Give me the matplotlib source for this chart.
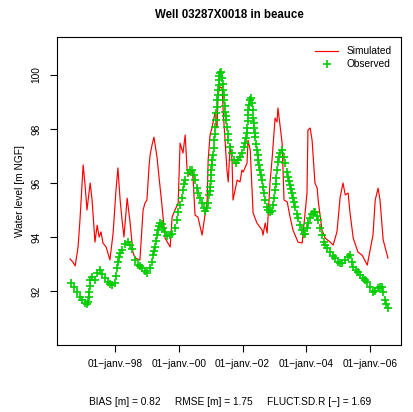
import numpy as np
import matplotlib.pyplot as plt

plt.rcParams['font.family'] = ['Liberation Sans', 'DejaVu Sans']

# simulated head (decimal years, m NGF)
sim_t = [1996.59, 1996.68, 1996.75, 1996.84, 1996.90, 1997.00, 1997.06, 1997.12, 1997.22, 1997.28,
         1997.37, 1997.44, 1997.50, 1997.56, 1997.62, 1997.72, 1997.84, 1997.94, 1998.03, 1998.09,
         1998.16, 1998.22, 1998.28, 1998.38, 1998.47, 1998.56, 1998.63, 1998.78, 1998.88, 1998.94,
         1999.00, 1999.07, 1999.10, 1999.16, 1999.22, 1999.32, 1999.35, 1999.47, 1999.57, 1999.73,
         1999.79, 1999.88, 1999.98, 2000.04, 2000.13, 2000.20, 2000.26, 2000.32, 2000.42, 2000.45,
         2000.51, 2000.60, 2000.73, 2000.82, 2000.89, 2000.92, 2000.98, 2001.04, 2001.14, 2001.20,
         2001.23, 2001.29, 2001.36, 2001.39, 2001.51, 2001.55, 2001.61, 2001.67, 2001.70, 2001.83,
         2001.92, 2001.98, 2002.02, 2002.14, 2002.17, 2002.24, 2002.33, 2002.45, 2002.61, 2002.64,
         2002.71, 2002.77, 2002.86, 2002.93, 2003.02, 2003.08, 2003.11, 2003.24, 2003.30, 2003.40,
         2003.49, 2003.58, 2003.74, 2003.87, 2003.90, 2004.02, 2004.05, 2004.12, 2004.18, 2004.27,
         2004.34, 2004.37, 2004.49, 2004.59, 2004.75, 2004.84, 2004.96, 2005.06, 2005.15, 2005.22,
         2005.31, 2005.37, 2005.47, 2005.62, 2005.75, 2005.91, 2006.00, 2006.09, 2006.16, 2006.25,
         2006.31, 2006.41, 2006.56]
sim_h = [93.19, 93.07, 92.93, 93.63, 94.63, 96.67, 95.93, 95.00, 96.00, 95.37,
         93.81, 94.44, 94.00, 94.19, 93.78, 93.63, 93.15, 94.15, 95.74, 96.56,
         95.37, 94.63, 94.00, 95.44, 94.56, 93.44, 93.22, 93.15, 95.00, 95.26,
         95.37, 96.67, 97.04, 97.41, 97.70, 96.93, 96.56, 95.19, 93.96, 93.63,
         94.74, 95.00, 95.26, 97.48, 97.11, 97.78, 96.48, 96.30, 96.48, 96.11,
         94.81, 94.74, 94.07, 94.81, 95.37, 96.85, 97.78, 98.04, 98.63, 98.04,
         99.26, 99.56, 99.52, 98.70, 96.48, 96.04, 97.41, 96.85, 95.37, 96.11,
         96.04, 96.48, 96.41, 96.74, 97.59, 97.22, 94.89, 94.52, 94.26, 94.07,
         94.52, 94.15, 96.00, 96.96, 98.41, 98.26, 98.78, 97.48, 95.37, 95.30,
         94.74, 94.26, 93.81, 93.78, 94.15, 95.63, 97.96, 98.04, 97.59, 96.00,
         95.81, 95.37, 94.26, 93.96, 93.81, 93.70, 94.19, 95.48, 96.00, 95.56,
         95.63, 94.89, 93.96, 93.44, 93.33, 92.96, 93.52, 94.07, 95.37, 95.81,
         95.37, 93.89, 93.22]

# observed head
obs_t = [1996.62, 1996.71, 1996.81, 1996.90, 1996.96, 1997.06, 1997.12, 1997.15, 1997.18, 1997.22,
         1997.28, 1997.37, 1997.44, 1997.53, 1997.59, 1997.69, 1997.78, 1997.84, 1997.91, 1998.00,
         1998.06, 1998.09, 1998.16, 1998.22, 1998.31, 1998.41, 1998.47, 1998.53, 1998.63, 1998.72,
         1998.78, 1998.85, 1998.94, 1999.00, 1999.10, 1999.16, 1999.19, 1999.25, 1999.32, 1999.35,
         1999.41, 1999.47, 1999.51, 1999.57, 1999.63, 1999.73, 1999.79, 1999.88, 1999.98, 2000.04,
         2000.13, 2000.20, 2000.29, 2000.35, 2000.42, 2000.48, 2000.51, 2000.57, 2000.60, 2000.67,
         2000.73, 2000.79, 2000.82, 2000.89, 2000.92, 2000.95, 2000.98, 2001.01, 2001.04, 2001.07,
         2001.11, 2001.14, 2001.17, 2001.20, 2001.23, 2001.26, 2001.29, 2001.33, 2001.36, 2001.39,
         2001.42, 2001.45, 2001.48, 2001.51, 2001.55, 2001.61, 2001.67, 2001.73, 2001.80, 2001.86,
         2001.92, 2001.98, 2002.05, 2002.08, 2002.11, 2002.14, 2002.17, 2002.20, 2002.24, 2002.27,
         2002.30, 2002.33, 2002.36, 2002.39, 2002.45, 2002.49, 2002.55, 2002.61, 2002.67, 2002.71,
         2002.77, 2002.80, 2002.86, 2002.93, 2002.96, 2003.02, 2003.05, 2003.11, 2003.18, 2003.24,
         2003.30, 2003.33, 2003.40, 2003.43, 2003.49, 2003.55, 2003.62, 2003.65, 2003.71, 2003.74,
         2003.80, 2003.87, 2003.93, 2003.96, 2004.02, 2004.05, 2004.12, 2004.18, 2004.24, 2004.27,
         2004.34, 2004.37, 2004.43, 2004.49, 2004.56, 2004.59, 2004.65, 2004.75, 2004.84, 2004.90,
         2005.00, 2005.06, 2005.12, 2005.22, 2005.31, 2005.37, 2005.44, 2005.47, 2005.56, 2005.62,
         2005.69, 2005.78, 2005.84, 2005.91, 2006.00, 2006.09, 2006.16, 2006.25, 2006.31, 2006.38,
         2006.41, 2006.47, 2006.50, 2006.56,
         # extra readings on the steep stretches
         1997.17, 1997.20, 1998.03, 1998.12, 1999.22, 1999.28, 1999.38, 1999.93, 2000.09, 2000.16,
         2000.97, 2000.995, 2001.025, 2001.055, 2001.09, 2001.125, 2001.155, 2001.185, 2001.215, 2001.245,
         2001.275, 2001.375, 2001.405, 2001.435, 2001.465, 2001.53, 2002.125, 2002.155, 2002.185, 2002.315,
         2002.345, 2002.375, 2002.42, 2002.47, 2002.52, 2002.58, 2002.64, 2002.99, 2003.035, 2003.08,
         2003.145, 2003.46, 2003.52, 2003.585]
obs_h = [92.30, 92.15, 91.96, 91.78, 91.67, 91.56, 91.52, 91.59, 91.96, 92.41,
         92.52, 92.41, 92.67, 92.78, 92.63, 92.48, 92.33, 92.26, 92.22, 92.30,
         92.85, 93.07, 93.41, 93.52, 93.74, 93.81, 93.70, 93.56, 93.15, 92.96,
         92.93, 92.85, 92.74, 92.67, 92.85, 93.07, 93.33, 93.63, 94.07, 94.26,
         94.52, 94.48, 94.33, 94.19, 94.04, 94.07, 94.11, 94.33, 94.93, 95.19,
         95.74, 96.11, 96.37, 96.48, 96.48, 96.30, 96.11, 95.81, 95.63, 95.44,
         95.26, 95.07, 94.96, 95.07, 95.26, 95.56, 95.85, 96.30, 96.67, 97.04,
         97.59, 98.07, 98.59, 99.07, 99.44, 99.81, 100.07, 100.11, 99.89, 99.44,
         99.07, 98.63, 98.33, 98.07, 97.59, 97.33, 97.11, 96.85, 96.74, 96.85,
         96.96, 97.11, 97.33, 97.48, 97.67, 98.04, 98.52, 98.89, 99.07, 99.15,
         98.96, 98.41, 98.04, 97.70, 97.22, 96.85, 96.48, 96.11, 95.63, 95.37,
         95.11, 95.00, 94.93, 94.96, 95.19, 95.74, 96.19, 96.78, 97.11, 97.22,
         96.96, 96.74, 96.41, 96.22, 95.93, 95.63, 95.30, 95.11, 94.85, 94.70,
         94.44, 94.26, 94.11, 94.11, 94.33, 94.52, 94.70, 94.85, 94.93, 94.93,
         94.78, 94.63, 94.33, 94.07, 93.81, 93.70, 93.59, 93.44, 93.30, 93.22,
         93.07, 93.04, 93.04, 93.15, 93.26, 93.33, 93.07, 92.89, 92.78, 92.70,
         92.59, 92.48, 92.41, 92.33, 92.15, 91.96, 92.00, 92.11, 92.15, 92.15,
         91.96, 91.67, 91.52, 91.37,
         91.78, 92.20, 92.55, 93.25, 93.48, 93.85, 94.40, 94.62, 95.45, 95.95,
         95.70, 96.08, 96.48, 96.85, 97.30, 97.83, 98.33, 98.83, 99.25, 99.62,
         99.95, 99.66, 99.25, 98.85, 98.48, 97.83, 97.85, 98.28, 98.70, 98.70,
         98.22, 97.87, 97.45, 97.03, 96.66, 96.30, 95.87, 95.45, 95.96, 96.50,
         96.96, 96.07, 95.78, 95.46]

tick_years = [1998, 2000, 2002, 2004, 2006]
tick_labels = ['01\u2212janv.\u221298', '01\u2212janv.\u221200', '01\u2212janv.\u221202',
               '01\u2212janv.\u221204', '01\u2212janv.\u221206']
stats = 'BIAS [m] = 0.82     RMSE [m] = 1.75     FLUCT.SD.R [\u2212] = 1.69'

order = np.argsort(obs_t)
obs_t = np.array(obs_t)[order]
obs_h = np.array(obs_h)[order]

fig = plt.figure(figsize=(4.14, 4.12), dpi=100)
ax = fig.add_axes([0.1377, 0.1626, 0.831, 0.7476])

ax.plot(sim_t, sim_h, color='#ff0000', lw=0.85, label='Simulated')
ax.plot(obs_t, obs_h, ls='none', marker='+', ms=5.5, mew=1.2, color='#00cd00', label='Observed')

ax.set_xlim(1996.18, 2006.97)
ax.set_ylim(90.0, 101.41)
ax.set_xticks(tick_years)
ax.set_xticklabels(tick_labels)
ax.set_yticks([92, 94, 96, 98, 100])
ax.tick_params(direction='out', length=5, width=0.8, labelsize=7.3)
ax.tick_params(axis='x', pad=5)
ax.tick_params(axis='y', pad=6, labelrotation=90)
for lab in ax.get_yticklabels():
    lab.set_va('center')
for s in ax.spines.values():
    s.set_linewidth(0.8)

ax.set_ylabel('Water level [m NGF]', fontsize=7.3, labelpad=5)
ax.set_title('Well 03287X0018 in beauce', fontsize=8.3, fontweight='bold', pad=14)
fig.text(0.555, 0.012, stats, ha='center', va='bottom', fontsize=7.3)

ax.legend(loc='upper right', frameon=False, fontsize=7.3, handlelength=2.2,
          borderaxespad=0.5, labelspacing=0.3, handletextpad=0.9)

fig.savefig('out.png', dpi=100)
